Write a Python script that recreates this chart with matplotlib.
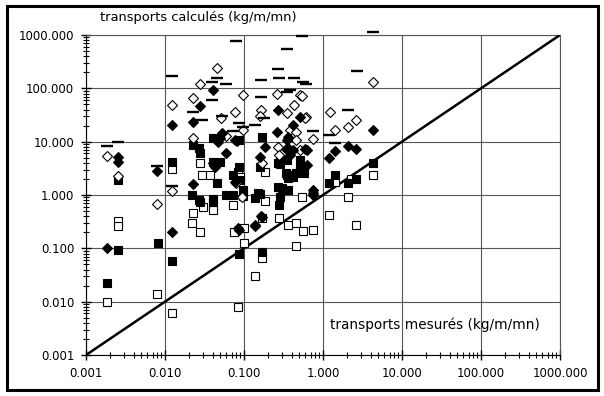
import matplotlib
matplotlib.use("Agg")
import matplotlib.pyplot as plt
import matplotlib.patches as patches
from matplotlib.ticker import FuncFormatter, LogLocator, NullFormatter

# transports mesurés / calculés (kg/m/mn), par type de marqueur
dash_x = [0.00185, 0.00254, 0.0079, 0.0121, 0.0121, 0.0223, 0.029, 0.0399, 0.0455, 0.060,
          0.0399, 0.079, 0.053, 0.087, 0.097, 0.073, 0.136, 0.164, 0.164, 0.179,
          0.269, 0.276, 0.35, 0.35, 0.382, 0.43, 0.55, 0.56, 0.61, 0.74,
          1.19, 1.40, 2.1, 2.7, 4.24]
dash_y = [8.3, 9.9, 3.5, 172, 1.48, 36, 25.7, 133, 158, 122,
          61, 785, 30.5, 22.6, 19, 16, 20.7, 145, 69, 28,
          233, 158, 555, 86, 94, 158, 975, 133, 122, 16,
          13.4, 9.5, 40, 214, 1150]

odiam_x = [0.00185, 0.00254, 0.0079, 0.0121, 0.0121, 0.0223, 0.028, 0.0223, 0.0455, 0.051,
           0.097, 0.077, 0.060, 0.097, 0.079, 0.262, 0.51, 0.164, 0.159, 0.35,
           0.43, 0.61, 0.38, 0.46, 0.169, 0.269, 0.276, 0.54, 0.59, 0.74,
           1.22, 2.65, 1.40, 2.1, 4.24, 0.094, 0.46, 0.51]
odiam_y = [5.4, 2.28, 0.677, 48, 1.19, 66.5, 122, 11.8, 245, 28,
           76, 36, 12.8, 16.7, 1.68, 79, 76, 39.6, 30.5, 34.8,
           49, 29, 16.7, 15.3, 4.0, 8.0, 5.6, 72, 28, 11.3,
           36, 25.7, 16.7, 18.9, 133, 0.917, 10.8, 7.0]

fdiam_x = [0.00254, 0.00254, 0.0079, 0.0121, 0.0121, 0.0274, 0.0223, 0.00185, 0.0223, 0.040,
           0.047, 0.0527, 0.060, 0.040, 0.082, 0.043, 0.077, 0.050, 0.077, 0.087,
           0.136, 0.169, 0.159, 0.184, 0.269, 0.262, 0.42, 0.36, 0.51, 0.34,
           0.42, 0.62, 0.38, 0.62, 0.164, 0.136, 0.084, 0.74, 0.74, 0.74,
           0.59, 1.19, 1.40, 2.1, 2.65, 4.24, 0.35, 0.36]
fdiam_y = [5.2, 4.2, 2.83, 20.7, 0.20, 47, 23.6, 0.101, 1.61, 94,
           9.9, 14.6, 6.2, 4.0, 10.3, 3.36, 1.76, 11.8, 10.8, 0.22,
           0.262, 0.386, 5.2, 8.0, 39.6, 15.3, 20.7, 12.3, 29, 7.3,
           7.0, 7.0, 5.6, 3.66, 0.403, 0.273, 0.24, 1.0, 1.24, 1.09,
           7.3, 4.96, 6.7, 8.3, 7.3, 16.7, 10.8, 7.6]

fsq_x = [0.00254, 0.00185, 0.00254, 0.0081, 0.0121, 0.0121, 0.0223, 0.027, 0.0274, 0.022,
         0.027, 0.0274, 0.040, 0.040, 0.0455, 0.050, 0.040, 0.060, 0.073, 0.087,
         0.073, 0.089, 0.087, 0.097, 0.097, 0.040, 0.087, 0.169, 0.169, 0.159,
         0.150, 0.136, 0.159, 0.269, 0.35, 0.283, 0.283, 0.35, 0.42, 0.46,
         0.34, 0.36, 0.51, 0.51, 0.57, 0.269, 0.36, 0.30, 0.283, 0.276,
         4.24, 1.40, 1.19, 2.1, 2.65]
fsq_y = [1.91, 0.022, 0.093, 0.125, 0.058, 4.17, 8.7, 7.6, 6.2, 1.0,
         0.806, 0.74, 11.8, 4.2, 1.68, 4.2, 0.84, 1.0, 1.0, 3.36,
         2.38, 1.91, 10.8, 1.24, 0.95, 0.74, 0.078, 0.085, 12.3, 3.36,
         1.09, 0.88, 1.04, 4.0, 4.55, 4.55, 3.83, 2.38, 2.18, 2.59,
         2.59, 2.09, 4.55, 3.22, 2.59, 1.41, 1.24, 1.35, 0.917, 0.649,
         4.0, 2.38, 1.68, 1.68, 2.0]

osq_x = [0.0121, 0.0274, 0.029, 0.037, 0.00254, 0.00254, 0.00185, 0.0079, 0.0121, 0.0223,
         0.030, 0.022, 0.0274, 0.040, 0.075, 0.1, 0.1, 0.169, 0.169, 0.136,
         0.084, 0.276, 0.36, 0.46, 0.46, 0.56, 0.74, 0.184, 0.184, 0.084,
         0.089, 0.073, 0.54, 1.19, 2.65, 2.1, 4.24, 1.40, 2.26]
osq_y = [3.08, 4.0, 2.38, 2.38, 0.325, 0.262, 0.0098, 0.0137, 0.0061, 0.459,
         0.595, 0.298, 0.202, 0.523, 0.202, 0.24, 0.125, 0.37, 0.066, 0.030,
         0.0078, 0.37, 0.273, 0.298, 0.110, 0.211, 0.22, 0.771, 2.71, 2.71,
         2.18, 0.649, 0.917, 0.421, 0.273, 0.917, 2.38, 1.76, 2.0]

axis_min, axis_max = 0.001, 1000.0

plt.rcParams['font.family'] = ['DejaVu Sans']

fig = plt.figure(figsize=(6.04, 3.96), dpi=100)
ax = fig.add_axes([86 / 604, 1 - 355 / 396, (560 - 86) / 604, (355 - 35) / 396])

# cadre extérieur
fig.patches.append(patches.Rectangle((0.012, 0.014), 0.978, 0.972, transform=fig.transFigure,
                                     fill=False, edgecolor='black', linewidth=2.2))

ax.set_xscale('log')
ax.set_yscale('log')
ax.set_xlim(axis_min, axis_max)
ax.set_ylim(axis_min, axis_max)

ax.plot([axis_min, axis_max], [axis_min, axis_max], color='black', linewidth=1.8, zorder=3)

ms = 5.2
ax.plot(osq_x, osq_y, 's', ms=ms, mfc='white', mec='black', mew=0.8, zorder=4)
ax.plot(fsq_x, fsq_y, 's', ms=ms, mfc='black', mec='black', mew=0.8, zorder=4)
ax.plot(odiam_x, odiam_y, 'D', ms=4.8, mfc='white', mec='black', mew=0.8, zorder=4)
ax.plot(fdiam_x, fdiam_y, 'D', ms=4.8, mfc='black', mec='black', mew=0.8, zorder=4)
ax.plot(dash_x, dash_y, '_', ms=8, mec='black', mew=1.7, zorder=4, clip_on=False)

ax.xaxis.set_major_locator(LogLocator(base=10, numticks=10))
ax.yaxis.set_major_locator(LogLocator(base=10, numticks=10))
ax.xaxis.set_minor_locator(LogLocator(base=10, subs=range(2, 10), numticks=100))
ax.yaxis.set_minor_locator(LogLocator(base=10, subs=range(2, 10), numticks=100))
fmt = FuncFormatter(lambda v, p: f'{v:.3f}')
ax.xaxis.set_major_formatter(fmt)
ax.yaxis.set_major_formatter(fmt)
ax.xaxis.set_minor_formatter(NullFormatter())
ax.yaxis.set_minor_formatter(NullFormatter())

ax.tick_params(which='major', direction='inout', length=7, width=1, labelsize=8.5, pad=5)
ax.tick_params(which='minor', direction='inout', length=5, width=0.8)
ax.grid(True, which='major', color='#555555', linewidth=0.8)
for s in ax.spines.values():
    s.set_color('#555555')
    s.set_linewidth(0.8)
ax.spines['left'].set_color('black')
ax.spines['bottom'].set_color('black')

fig.text(100 / 604, 1 - 18 / 396, 'transports calculés (kg/m/mn)', fontsize=9.4,
         ha='left', va='center')
fig.text(330 / 604, 1 - 325 / 396, 'transports mesurés (kg/m/mn)', fontsize=9.8,
         ha='left', va='center')

fig.savefig('out.png', dpi=100)
